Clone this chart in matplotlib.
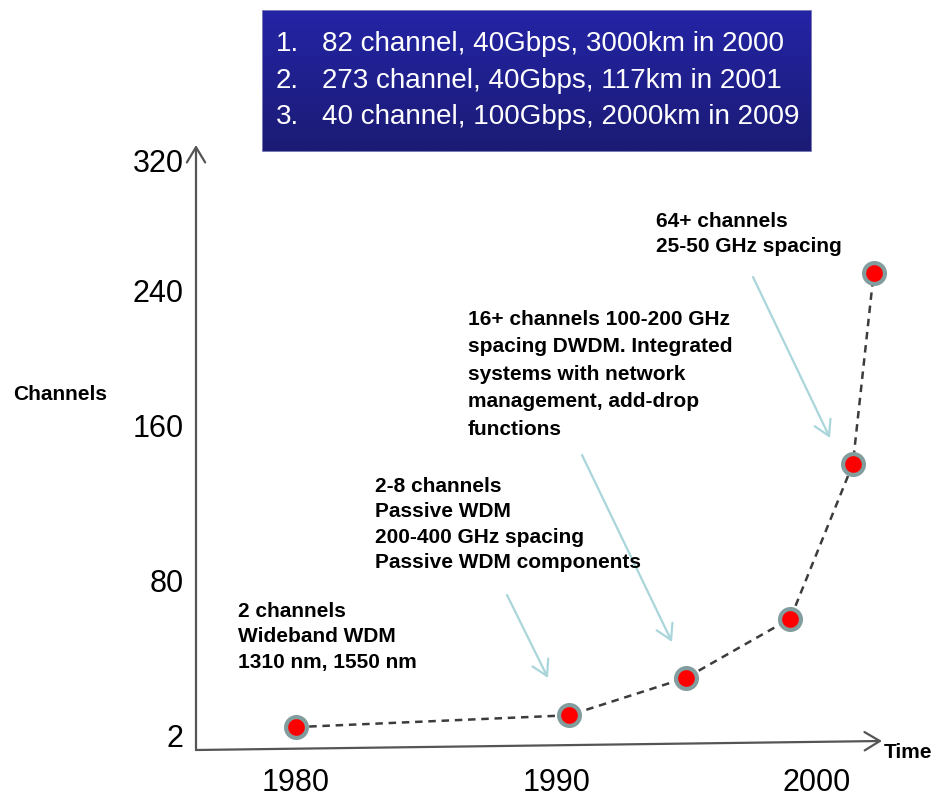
import numpy as np
import matplotlib
matplotlib.use('Agg')
import matplotlib.pyplot as plt
from matplotlib.colors import LinearSegmentedColormap
from matplotlib.patches import Rectangle

plt.rcParams['font.family'] = ['Liberation Sans', 'DejaVu Sans']

# WDM channel count over time
years = [1980.0, 1990.5, 1995.0, 1999.0, 2001.4, 2002.2]
channels = [6, 12, 31, 61, 140, 251]

x_ticks = [1980, 1990, 2000]
y_ticks = [2, 80, 160, 240, 320]
# height above the time axis (px) of each channel tick - the axis is not evenly spaced
y_tick_px = [15, 169, 325, 459, 590]

records = [
    ("1.", "82 channel, 40Gbps, 3000km in 2000"),
    ("2.", "273 channel, 40Gbps, 117km in 2001"),
    ("3.", "40 channel, 100Gbps, 2000km in 2009"),
]

# text, top-left position (px), line spacing
notes = [
    ("2 channels\nWideband WDM\n1310 nm, 1550 nm", (238, 602), 1.42),
    ("2-8 channels\nPassive WDM\n200-400 GHz spacing\nPassive WDM components", (375, 477), 1.42),
    ("16+ channels 100-200 GHz\nspacing DWDM. Integrated\nsystems with network\n"
     "management, add-drop\nfunctions", (468, 310), 1.56),
    ("64+ channels\n25-50 GHz spacing", (656, 212), 1.42),
]
# pointer arrows (tail, head) in pixels
pointers = [((507, 595), (548, 678)),
            ((582, 455), (672, 642)),
            ((753, 277), (830, 438))]

W, H = 935, 805


def fxy(x, y):
    return (x / W, 1 - y / H)


kv = np.array(y_ticks, float)
kp = np.array(y_tick_px, float)


def piecewise(v, a, b):
    v = np.asarray(v, float)
    out = np.interp(v, a, b)
    lo = (b[1] - b[0]) / (a[1] - a[0])
    hi = (b[-1] - b[-2]) / (a[-1] - a[-2])
    out = np.where(v < a[0], b[0] + (v - a[0]) * lo, out)
    out = np.where(v > a[-1], b[-1] + (v - a[-1]) * hi, out)
    return out


def to_px(v):
    return piecewise(v, kv, kp)


def from_px(p):
    return piecewise(p, kp, kv)


fig = plt.figure(figsize=(W / 100, H / 100), dpi=100)
ax = fig.add_axes([196 / W, 55 / H, 686 / W, 605 / H])
ax.set_yscale('function', functions=(to_px, from_px))
ax.set_ylim(float(from_px(0)), float(from_px(605)))
ax.set_xlim(1976.16, 2002.52)

for s in ax.spines.values():
    s.set_visible(False)
ax.set_xticks(x_ticks)
ax.set_xticklabels([str(v) for v in x_ticks])
ax.set_yticks(y_ticks)
ax.set_yticklabels([str(v) for v in y_ticks])
ax.minorticks_off()
ax.tick_params(length=0, labelsize=22)
ax.tick_params(axis='x', pad=13)
ax.tick_params(axis='y', pad=9)

# axes drawn as arrows
axis_arrow = dict(arrowstyle='->,head_length=0.5,head_width=0.3', color='#555555',
                  lw=1.6, mutation_scale=22, shrinkA=0, shrinkB=0)
ax.annotate('', xy=(0, 1), xytext=(0, 0), xycoords='axes fraction',
            arrowprops=axis_arrow, annotation_clip=False)
ax.annotate('', xy=(1, 9 / 605), xytext=(0, 0), xycoords='axes fraction',
            arrowprops=axis_arrow, annotation_clip=False)

ax.plot(years, channels, ls=(0, (3.0, 2.3)), color='#3c3c3c', lw=1.8,
        zorder=2, clip_on=False)
ax.plot(years, channels, 'o', ms=15, mfc='#ff0000', mec='#829d9d', mew=3,
        zorder=3, clip_on=False)

fig.text(*fxy(13, 395), "Channels", fontsize=15, fontweight='bold', va='center')
fig.text(*fxy(884, 752), "Time", fontsize=15, fontweight='bold', va='center')

for txt, (x, y), ls in notes:
    fig.text(*fxy(x, y), txt, fontsize=15, fontweight='bold', va='top', ha='left',
             linespacing=ls)

for tail, head in pointers:
    ax.annotate('', xy=fxy(*head), xytext=fxy(*tail), xycoords='figure fraction',
                arrowprops=dict(arrowstyle='->,head_length=0.6,head_width=0.35',
                                color='#a9d5db', lw=1.6, mutation_scale=18,
                                shrinkA=0, shrinkB=0),
                annotation_clip=False)

# header box with record transmissions
box = fig.add_axes([262 / W, 1 - 152 / H, 550 / W, 142 / H])
grad = LinearSegmentedColormap.from_list('hdr', ['#2424a6', '#1b1b74'])
box.imshow(np.linspace(0, 1, 100).reshape(-1, 1), cmap=grad, aspect='auto',
           extent=(0, 1, 0, 1), origin='upper')
box.add_patch(Rectangle((0, 0), 1, 1, transform=box.transAxes, fill=False,
                        ec='#8c8cc0', lw=1.2))
box.set_axis_off()
for i, (num, rec) in enumerate(records):
    y = 44 + i * 36.5
    fig.text(*fxy(276, y), num, color='white', fontsize=20, va='center')
    fig.text(*fxy(322, y), rec, color='white', fontsize=20, va='center')

fig.savefig('out.png', dpi=100)
